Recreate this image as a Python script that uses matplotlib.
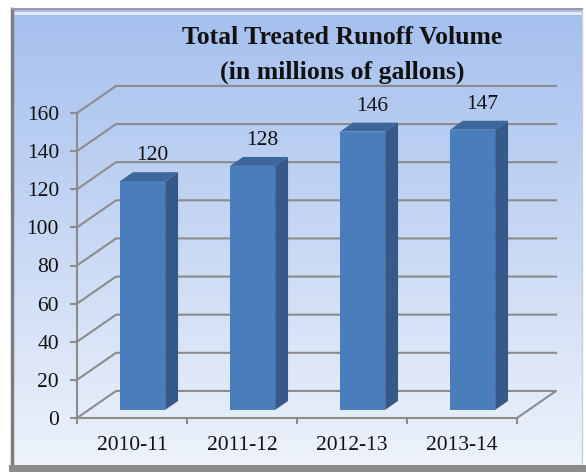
import numpy as np
import matplotlib.pyplot as plt
from matplotlib.patches import Polygon
from matplotlib.colors import LinearSegmentedColormap

categories = ['2010-11', '2011-12', '2012-13', '2013-14']
volumes = [120, 128, 146, 147]
y_ticks = [0, 20, 40, 60, 80, 100, 120, 140, 160]
title_lines = ['Total Treated Runoff Volume', '(in millions of gallons)']

W, H = 586, 476
SERIF = ['Liberation Serif', 'DejaVu Serif']
GRID = '#8c8c8c'

# oblique depth of the 3d box, in data units (category, value)
DX, DY = 0.355, 14.2


def proj(x, y, z):
    return x + z * DX, y + z * DY


fig = plt.figure(figsize=(W / 100, H / 100), dpi=100)
fig.patch.set_facecolor('white')

# chart area with gradient background
bg = fig.add_axes([12 / W, 8 / H, 570 / W, 459 / H])
cmap = LinearSegmentedColormap.from_list('bg', ['#a5bfee', '#c8d8f4', '#eef3fb'])
grad = np.linspace(0, 1, 256)[:, None]
bg.imshow(grad, aspect='auto', cmap=cmap, extent=[0, 1, 0, 1])
bg.set_xticks([])
bg.set_yticks([])
bg.spines['left'].set_color('#7d7d7d')
bg.spines['left'].set_linewidth(2.5)
bg.spines['top'].set_color('#9a9a9a')
bg.spines['top'].set_linewidth(1.5)
bg.spines['right'].set_color('#c5cfdf')
bg.spines['right'].set_linewidth(1)
bg.spines['bottom'].set_color('#8a8a8a')
bg.spines['bottom'].set_linewidth(5)
bg.axhline(0.992, color='white', lw=2, alpha=0.7)

ax = fig.add_axes([77 / W, 58 / H, 440 / W, 305 / H])
ax.patch.set_visible(False)
ax.set_xlim(0, len(categories))
ax.set_ylim(y_ticks[0], y_ticks[-1])

# walls: gridlines on side + back wall, floor outline
n = len(categories)
for v in y_ticks[1:]:
    ax.plot([0, DX, n + DX], [v, v + DY, v + DY], color=GRID, lw=1.5,
            clip_on=False, zorder=1)
ax.plot([0, DX, n + DX, n], [0, DY, DY, 0], color=GRID, lw=1.5,
        clip_on=False, zorder=1)

# 3d columns
x_off, width = 0.285, 0.41
z0, z1 = 0.30, 0.63
for i, v in enumerate(volumes):
    x0 = i + x_off
    x1 = x0 + width
    front = [proj(x0, 0, z0), proj(x1, 0, z0), proj(x1, v, z0), proj(x0, v, z0)]
    side = [proj(x1, 0, z0), proj(x1, 0, z1), proj(x1, v, z1), proj(x1, v, z0)]
    top = [proj(x0, v, z0), proj(x1, v, z0), proj(x1, v, z1), proj(x0, v, z1)]
    ax.add_patch(Polygon(front, closed=True, fc='#4a7dbb', ec='none', zorder=3, clip_on=False))
    ax.add_patch(Polygon(side, closed=True, fc='#36598a', ec='none', zorder=3, clip_on=False))
    ax.add_patch(Polygon(top, closed=True, fc='#3d669c', ec='none', zorder=3, clip_on=False))
    lx, ly = proj(x0 + width / 2, v, (z0 + z1) / 2)
    ax.annotate(str(v), xy=(lx, ly), xytext=(2, 15), textcoords='offset points',
                ha='center', va='center', fontsize=15.5, family=SERIF,
                color='#111111', annotation_clip=False)

# axes lines and ticks
for s in ['top', 'right']:
    ax.spines[s].set_visible(False)
for s in ['left', 'bottom']:
    ax.spines[s].set_color(GRID)
    ax.spines[s].set_linewidth(1.5)
    ax.spines[s].set_zorder(2)

ax.set_yticks(y_ticks)
ax.set_yticklabels([str(t) for t in y_ticks], family=SERIF, fontsize=15.5)
ax.tick_params(axis='y', direction='out', length=5, width=1.5, color=GRID,
               pad=8, labelcolor='#111111')

ax.set_xticks(range(n + 1))
ax.set_xticklabels([])
ax.tick_params(axis='x', which='major', direction='out', length=4, width=1.5, color=GRID)
ax.set_xticks([i + 0.5 for i in range(n)], minor=True)
ax.set_xticklabels(categories, minor=True, family=SERIF, fontsize=15.5)
ax.tick_params(axis='x', which='minor', length=0, pad=13, labelcolor='#111111')

fig.text(342 / W, 1 - 38 / H, title_lines[0], ha='center', va='center',
         fontsize=18.5, fontweight='bold', family=SERIF, color='#111111')
fig.text(342 / W, 1 - 72 / H, title_lines[1], ha='center', va='center',
         fontsize=18.5, fontweight='bold', family=SERIF, color='#111111')

fig.savefig('out.png', dpi=100)
